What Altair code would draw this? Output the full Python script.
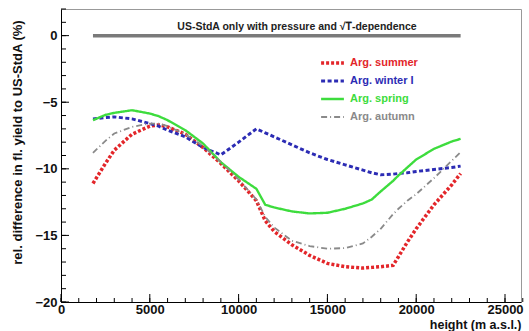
import altair as alt
import pandas as pd

# ---- data ----
heights = [1800, 2500, 3000, 4000, 5000, 5500, 6000, 7000, 8000, 9000, 10000,
           11000, 11500, 12000, 13000, 14000, 15000, 16000, 17000, 17500, 18000,
           18700, 19000, 19500, 20000, 21000, 22000, 22500]

summer = [-11.1, -9.6, -8.6, -7.4, -6.8, -6.7, -6.85, -7.4, -8.4, -9.6, -10.9,
          -12.4, -13.9, -14.7, -15.7, -16.5, -17.1, -17.35, -17.45, -17.4, -17.35,
          -17.25, -16.6, -15.5, -14.5, -12.7, -11.2, -10.35]
winter = [-6.25, -6.15, -6.1, -6.25, -6.6, -6.8, -7.1, -7.6, -8.4, -8.95, -8.0,
          -7.0, -7.3, -7.6, -8.2, -8.8, -9.3, -9.7, -10.1, -10.3, -10.45,
          -10.4, -10.35, -10.3, -10.2, -10.05, -9.9, -9.8]
spring = [-6.35, -5.95, -5.8, -5.6, -5.85, -6.05, -6.35, -7.1, -8.1, -9.5, -10.6,
          -11.5, -12.7, -12.9, -13.2, -13.35, -13.3, -13.0, -12.6, -12.3, -11.7,
          -10.9, -10.5, -9.9, -9.3, -8.5, -7.95, -7.75]
autumn = [-8.8, -7.9, -7.35, -6.85, -6.6, -6.6, -6.8, -7.4, -8.3, -9.5, -10.8,
          -12.3, -13.6, -14.4, -15.4, -15.8, -16.0, -15.95, -15.6, -15.1, -14.5,
          -13.4, -13.0, -12.4, -11.9, -10.7, -9.4, -8.75]

series_names = ["Arg. summer", "Arg. winter I", "Arg. spring", "Arg. autumn"]
series_values = [summer, winter, spring, autumn]
series_colors = ["#e3262a", "#2c2cb4", "#3ddc3d", "#8a8a8a"]
series_dashes = [[3, 2], [4, 2.5], [1, 0], [6, 3, 1, 3]]
series_widths = [3.5, 1.8, 2.0, 1.4]

ref_heights = [1800, 22500]
ref_values = [0, 0]

x_labels = [0, 5000, 10000, 15000, 20000, 25000]
y_labels = [0, -5, -10, -15, -20]
x_minor = list(range(0, 26001, 1000))
y_minor = list(range(-20, 3, 1))

TITLE = "US-StdA only with pressure and \u221aT\u0305-dependence"
X_TITLE = "height (m a.s.l.)"
Y_TITLE = "rel. difference in fl. yield to US-StdA (%)"

W, H = 460, 293
FONT = "Liberation Sans"

rows = []
for name, vals in zip(series_names, series_values):
    for h, v in zip(heights, vals):
        rows.append({"height": h, "value": v, "series": name})
df = pd.DataFrame(rows)
ref_df = pd.DataFrame({"height": ref_heights, "value": ref_values})

xscale = alt.Scale(domain=[0, 25900], nice=False, zero=False)
yscale = alt.Scale(domain=[-20, 2], nice=False, zero=False)

x_enc = alt.X("height:Q", scale=xscale,
              axis=alt.Axis(values=x_labels, format="d", title=X_TITLE, ticks=False, grid=False,
                            labelFont=FONT, labelFontWeight="bold", labelFontSize=13,
                            labelColor="#111", labelPadding=1, domainColor="#000",
                            titleFont=FONT, titleFontWeight="bold", titleFontSize=12.5,
                            titleColor="#111", titleAlign="right", titleX=W,
                            titleY=26, titleBaseline="alphabetic", labelFlush=False))
y_enc = alt.Y("value:Q", scale=yscale,
              axis=alt.Axis(values=y_labels, format="d", title=Y_TITLE, ticks=False, grid=False,
                            labelFont=FONT, labelFontWeight="bold", labelFontSize=13,
                            labelColor="#111", labelPadding=4, domainColor="#000",
                            titleFont=FONT, titleFontWeight="bold", titleFontSize=13,
                            titleColor="#111", titleX=-44, titleY=133,
                            titleAlign="center", titleBaseline="middle", titleAngle=-90,
                            labelFlush=False))

ref_line = alt.Chart(ref_df).mark_line(color="#7a7a7a", strokeWidth=3.5).encode(
    x=x_enc, y=y_enc)

lines = alt.Chart(df).mark_line(strokeCap="butt").encode(
    x=alt.X("height:Q", scale=xscale),
    y=alt.Y("value:Q", scale=yscale),
    color=alt.Color("series:N", sort=series_names,
                    scale=alt.Scale(domain=series_names, range=series_colors),
                    legend=alt.Legend(title=None, orient="none", legendX=258, legendY=46,
                                      symbolType="stroke", symbolSize=520,
                                      clipHeight=16, rowPadding=2, padding=0,
                                      labelFont=FONT, labelFontWeight="bold",
                                      labelFontSize=11, labelOffset=4,
                                      labelColor=alt.ExprRef(expr="scale('color', datum.value)"))),
    strokeDash=alt.StrokeDash("series:N", sort=series_names,
                              scale=alt.Scale(domain=series_names, range=series_dashes)),
    strokeWidth=alt.StrokeWidth("series:N", sort=series_names,
                                scale=alt.Scale(domain=series_names, range=series_widths)),
    order=alt.Order("height:Q"),
)

tx_df = pd.DataFrame({"t": x_minor})
ty_df = pd.DataFrame({"t": y_minor})
x_major_df = pd.DataFrame({"t": x_labels})
y_major_df = pd.DataFrame({"t": y_labels})

xt_minor = alt.Chart(tx_df).mark_rule(color="#000", strokeWidth=1).encode(
    x=alt.X("t:Q", scale=xscale), y=alt.value(H), y2=alt.value(H - 4))
xt_major = alt.Chart(x_major_df).mark_rule(color="#000", strokeWidth=1).encode(
    x=alt.X("t:Q", scale=xscale), y=alt.value(H), y2=alt.value(H - 8))
yt_minor = alt.Chart(ty_df).mark_rule(color="#000", strokeWidth=1).encode(
    y=alt.Y("t:Q", scale=yscale), x=alt.value(0), x2=alt.value(5))
yt_major = alt.Chart(y_major_df).mark_rule(color="#000", strokeWidth=1).encode(
    y=alt.Y("t:Q", scale=yscale), x=alt.value(0), x2=alt.value(8))

title_df = pd.DataFrame({"t": [TITLE]})
title = alt.Chart(title_df).mark_text(font=FONT, fontWeight="bold", fontSize=10.5,
                                      color="#222", align="center",
                                      baseline="middle").encode(
    text="t:N", x=alt.value(236), y=alt.value(18))

chart = alt.layer(ref_line, lines, xt_minor, xt_major, yt_minor, yt_major, title).properties(
    width=W, height=H,
    autosize=alt.AutoSizeParams(type="none"),
    padding={"left": 61, "top": 9, "right": 8, "bottom": 29},
    background="white",
).configure_view(stroke="#999", strokeWidth=1)

chart.save("out.html", embed_options={"renderer": "svg", "actions": False})
